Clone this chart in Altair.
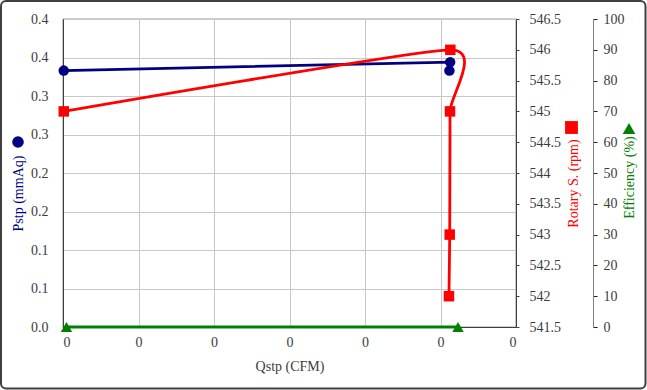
import json
import altair as alt
import pandas as pd

# ---- data ----
q_pstp = [0.0005, 0.2564, 0.2559]
pstp = [0.333, 0.344, 0.333]

q_rpm = [0.0005, 0.2565, 0.2563, 0.2561, 0.2556]
rpm = [545.0, 546.0, 545.0, 543.0, 542.0]

q_eff = [0.0023, 0.2616]
eff = [0.0, 0.0]

x_ticks = [0, 0.05, 0.1, 0.15, 0.2, 0.25, 0.3]
x_tick_labels = ["0", "0", "0", "0", "0", "0", "0"]
y_ticks = [0, 0.05, 0.1, 0.15, 0.2, 0.25, 0.3, 0.35, 0.4]
y_tick_labels = ["0.0", "0.1", "0.1", "0.2", "0.2", "0.3", "0.3", "0.4", "0.4"]
rpm_ticks = [541.5, 542, 542.5, 543, 543.5, 544, 544.5, 545, 545.5, 546, 546.5]
eff_ticks = [0, 10, 20, 30, 40, 50, 60, 70, 80, 90, 100]

NAVY = "#000080"
RED = "#FF0000"
GREEN = "#008000"
TXT = "#3c3c3c"
FONT = "Liberation Serif, Times New Roman, serif"
FS = 14

W, H = 453, 308
PL, PT = 63, 19

df_p = pd.DataFrame({"q": q_pstp, "v": pstp, "i": range(len(pstp))})
df_r = pd.DataFrame({"q": q_rpm, "v": rpm, "i": range(len(rpm))})
df_e = pd.DataFrame({"q": q_eff, "v": eff, "i": range(len(eff))})
one = pd.DataFrame({"k": [0]})

font_args = dict(labelFont=FONT, titleFont=FONT, labelFontSize=FS, titleFontSize=FS,
                 labelColor=TXT, titleFontWeight="normal")

x_enc = alt.X(
    "q:Q",
    scale=alt.Scale(domain=[0, 0.3], nice=False, zero=False),
    axis=alt.Axis(
        values=x_ticks,
        labelExpr=f"{json.dumps(x_tick_labels)}[round(datum.value*20)]",
        title="Qstp (CFM)",
        titleColor=TXT,
        grid=True,
        gridColor="#c8c8c8",
        ticks=False,
        labelPadding=8,
        titlePadding=10,
        domainColor="#404040",
        **font_args,
    ),
)

blue = alt.Chart(df_p).mark_line(
    color=NAVY, strokeWidth=2.8,
    point=alt.OverlayMarkDef(shape="circle", filled=True, size=110, color=NAVY, opacity=1),
).encode(
    x=x_enc,
    y=alt.Y(
        "v:Q",
        scale=alt.Scale(domain=[0, 0.4], nice=False, zero=False),
        axis=alt.Axis(
            orient="left",
            values=y_ticks,
            labelExpr=f"{json.dumps(y_tick_labels)}[round(datum.value*20)]",
            grid=True,
            gridColor="#c8c8c8",
            ticks=False,
            tickSize=0,
            labelPadding=15,
            domainColor="#404040",
            title="Pstp (mmAq)",
            titleColor=NAVY,
            titleAngle=270,
            titleX=-45,
            titleY=174,
            titleAlign="center",
            titleBaseline="middle",
            **font_args,
        ),
    ),
    order=alt.Order("i:Q"),
)

red = alt.Chart(df_r).mark_line(
    color=RED, strokeWidth=2.8, interpolate="cardinal", tension=0.5,
    point=alt.OverlayMarkDef(shape="square", filled=True, size=110, color=RED, opacity=1),
).encode(
    x=x_enc,
    y=alt.Y(
        "v:Q",
        scale=alt.Scale(domain=[541.5, 546.5], nice=False, zero=False),
        axis=alt.Axis(
            orient="right",
            values=rpm_ticks,
            format=".1~f",
            grid=False,
            tickSize=3,
            tickColor="#404040",
            labelPadding=10,
            domainColor="#404040",
            title="Rotary S. (rpm)",
            titleColor=RED,
            titleAngle=270,
            titleX=57,
            titleY=164,
            titleAlign="center",
            titleBaseline="middle",
            **font_args,
        ),
    ),
    order=alt.Order("i:Q"),
)

green = alt.Chart(df_e).mark_line(
    color=GREEN, strokeWidth=2.8,
    point=alt.OverlayMarkDef(shape="triangle-up", filled=True, size=130, color=GREEN, opacity=1),
).encode(
    x=x_enc,
    y=alt.Y(
        "v:Q",
        scale=alt.Scale(domain=[0, 100], nice=False, zero=False),
        axis=alt.Axis(
            orient="right",
            offset=77,
            values=eff_ticks,
            format="d",
            grid=False,
            tickSize=4,
            tickColor="#202020",
            labelPadding=6,
            domainColor="#808080",
            title="Efficiency (%)",
            titleColor=GREEN,
            titleAngle=270,
            titleX=36,
            titleY=158,
            titleAlign="center",
            titleBaseline="middle",
            **font_args,
        ),
    ),
    order=alt.Order("i:Q"),
)

# legend-like symbols next to the axis titles
sym_p = alt.Chart(one).mark_point(shape="circle", filled=True, size=135, color=NAVY, opacity=1).encode(
    x=alt.value(18 - PL), y=alt.value(142 - PT))
sym_r = alt.Chart(one).mark_point(shape="square", filled=True, size=165, color=RED, opacity=1).encode(
    x=alt.value(571.5 - PL), y=alt.value(127.5 - PT))
sym_e = alt.Chart(one).mark_point(shape="triangle-up", filled=True, size=160, color=GREEN, opacity=1).encode(
    x=alt.value(629 - PL), y=alt.value(128.5 - PT))

frame = alt.Chart(one).mark_rect(
    fillOpacity=0, stroke="#404040", strokeWidth=2, cornerRadius=5
).encode(
    x=alt.value(1 - PL), x2=alt.value(645.5 - PL),
    y=alt.value(1 - PT), y2=alt.value(388.5 - PT),
)

chart = alt.layer(blue, red, green, sym_p, sym_r, sym_e, frame).resolve_scale(
    y="independent"
).properties(
    width=W, height=H,
    autosize=alt.AutoSizeParams(type="none"),
    padding={"left": PL, "top": PT, "right": 647 - PL - W, "bottom": 390 - PT - H},
    background="white",
).configure_view(
    stroke="#404040", strokeWidth=1.2,
).configure_axis(
    labelFont=FONT, titleFont=FONT, labelFontSize=FS, titleFontSize=FS,
    labelColor=TXT, titleColor=TXT, titleFontWeight="normal",
)

chart.save("out.html", embed_options={"renderer": "svg", "actions": False})
